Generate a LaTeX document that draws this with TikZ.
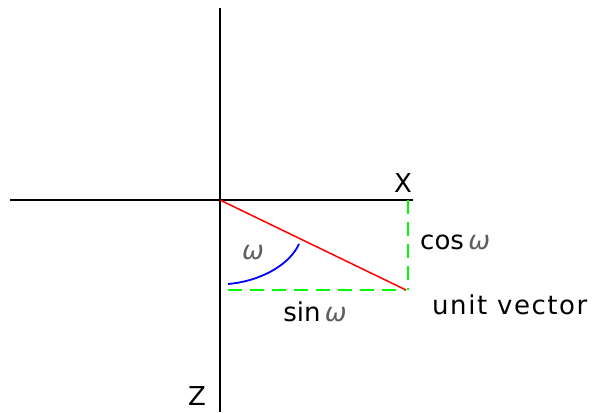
\documentclass[tikz,border=0pt]{standalone}
\usepackage{fontspec}
\setmainfont{DejaVu Sans}
\newcommand{\omegasym}{{\color{darkgray!85}\itshape ω}}

\begin{document}
\begin{tikzpicture}[x=1pt, y=-1pt,
            axis/.style={color=black, line width=2pt},
            vec/.style={color=red, line width=1.5pt},
            proj/.style={color=green, line width=2pt, dash pattern=on 14pt off 8pt},
            anglearc/.style={color=blue, line width=1.8pt},
            lbl/.style={inner sep=0pt, font=\fontsize{26}{30}\selectfont}
        ]
            \useasboundingbox (0, 0) rectangle (596, 412);

            % axes
            \coordinate (o) at (220, 200);
            \coordinate (xl) at (10, 200);
            \coordinate (xr) at (413, 200);
            \coordinate (zt) at (220, 8);
            \coordinate (zb) at (220, 412);
            \draw[axis] (xl) -- (xr);
            \draw[axis] (zt) -- (zb);

            % unit vector and its projections
            \coordinate (tip) at (406, 290);
            \coordinate (xp) at (408, 200);
            \coordinate (zp) at (228, 290);
            \draw[proj] (xp) -- (408, 290);
            \draw[proj] (zp) -- (tip);
            \draw[vec] (o) -- (tip);

            % angle
            \coordinate (a1) at (228, 284);
            \coordinate (a2) at (299, 244);
            \draw[anglearc] (a1) .. controls (262, 281) and (290, 264) .. (a2);

            % labels
            \node[lbl] (xlabel) at (403, 183) {X};
            \node[lbl] (zlabel) at (197, 396) {Z};
            \node[lbl, anchor=west] (coslabel) at (420, 242) {cos\,\omegasym};
            \node[lbl] (sinlabel) at (315, 312) {sin\,\omegasym};
            \node[lbl, anchor=west] (unitlabel) at (432, 305) {\addfontfeature{LetterSpace=6}unit vector};
            \node[lbl] (omegalabel) at (253, 253) {\omegasym};

        \end{tikzpicture}
\end{document}
